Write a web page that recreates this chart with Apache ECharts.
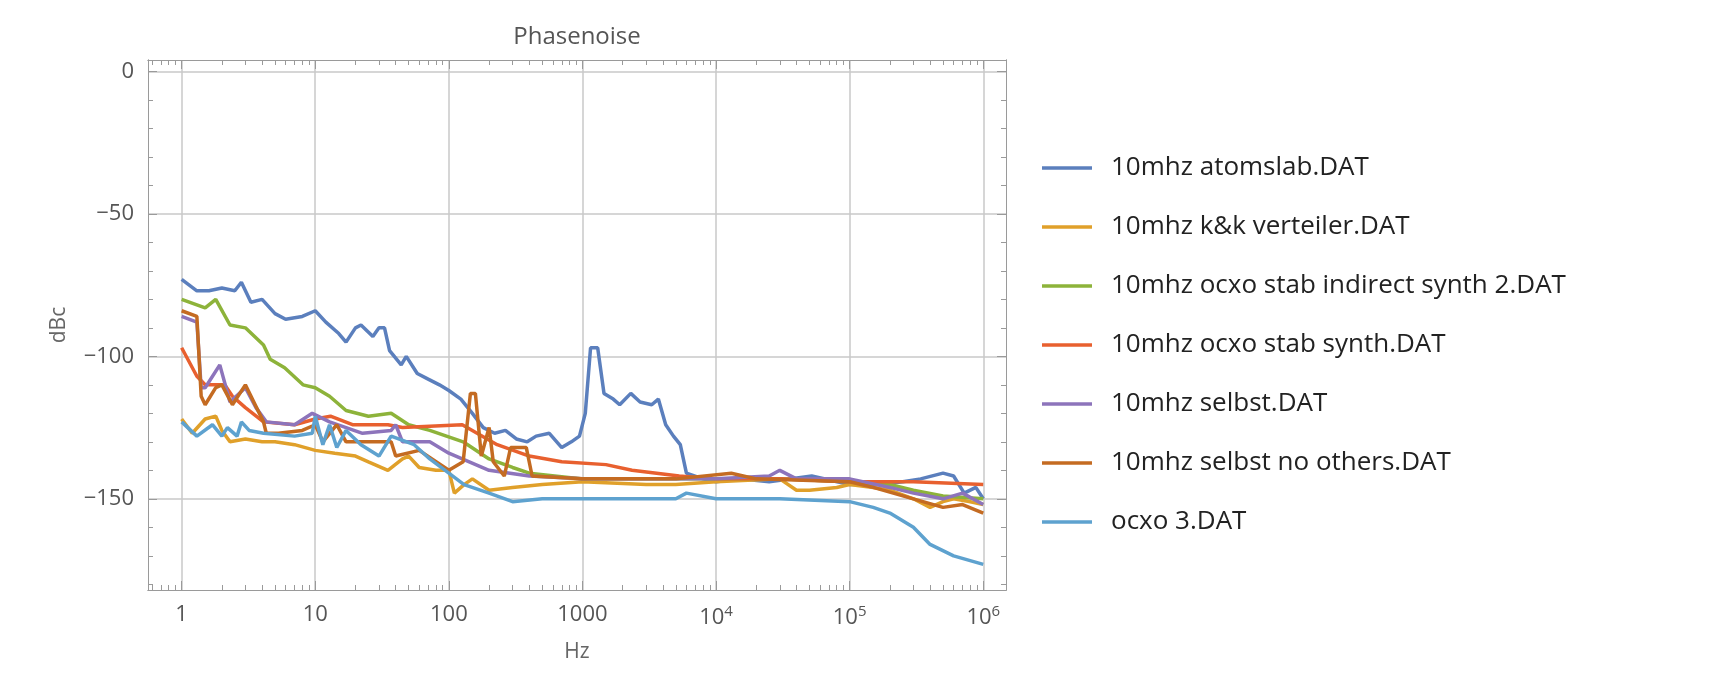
<!DOCTYPE html>
<html>
<head>
<meta charset="utf-8">
<script src="https://cdn.jsdelivr.net/npm/echarts@6/dist/echarts.min.js"></script>
<style>html,body{margin:0;background:#fff}#c{width:1714px;height:677px}</style>
</head>
<body>
<div id="c"></div>
<script>
// series names and colours (Mathematica default palette)
var names = ['10mhz atomslab.DAT', '10mhz k&k verteiler.DAT', '10mhz ocxo stab indirect synth 2.DAT',
  '10mhz ocxo stab synth.DAT', '10mhz selbst.DAT', '10mhz selbst no others.DAT', 'ocxo 3.DAT'];
var colors = ['#5b7fbd', '#e0a02a', '#8db33a', '#e8602f', '#8d74bb', '#c46b22', '#5ea2cf'];
var yTicks = [0, -50, -100, -150];
var xTicks = [1, 10, 100, 1000, 1e4, 1e5, 1e6];

// [Hz, dBc]
var atomslab = [[1,-73],[1.3,-77],[1.6,-77],[2,-76],[2.5,-77],[2.8,-74],[3.3,-81],[4,-80],[5,-85],[6,-87],[8,-86],[10,-84],[12,-88],[15,-92],[17,-95],[20,-90],[22,-89],[27,-93],[30,-90],[33,-90],[36,-98],[44,-103],[48,-100],[58,-106],[70,-108],[85,-110],[100,-112],[123,-115],[150,-120],[181,-125],[220,-127],[265,-126],[320,-129],[386,-130],[450,-128],[565,-127],[700,-132],[826,-130],[950,-128],[1050,-120],[1150,-97],[1300,-97],[1450,-113],[1700,-115],[1900,-117],[2300,-113],[2700,-116],[3300,-117],[3700,-115],[4200,-124],[4800,-128],[5400,-131],[6000,-141],[8000,-143],[10000,-144],[15000,-143],[25000,-144],[52000,-142],[100000,-145],[165000,-145],[250000,-144],[340000,-143],[500000,-141],[600000,-142],[720000,-148],[880000,-146],[1000000,-150]];
var kk = [[1,-122],[1.2,-127],[1.5,-122],[1.8,-121],[2,-126],[2.3,-130],[3,-129],[4,-130],[5,-130],[7,-131],[10,-133],[14,-134],[20,-135],[25,-137],[35,-140],[45,-136],[50,-135],[60,-139],[80,-140],[100,-140],[110,-148],[130,-145],[150,-143],[200,-147],[300,-146],[500,-145],[1000,-144],[3000,-145],[5000,-145],[10000,-144],[30000,-143],[40000,-147],[50000,-147],[80000,-146],[100000,-145],[150000,-146],[200000,-147],[300000,-150],[400000,-153],[500000,-151],[600000,-150],[800000,-151],[1000000,-152]];
var indirect = [[1,-80],[1.5,-83],[1.8,-80],[2.3,-89],[3,-90],[4.1,-96],[4.6,-101],[5.9,-104],[8.1,-110],[10,-111],[12.8,-114],[17,-119],[25,-121],[37,-120],[50,-124],[72,-126],[128,-130],[200,-136],[300,-139],[400,-141],[1000,-143],[3000,-143],[10000,-143],[30000,-143],[100000,-144],[200000,-145],[300000,-147],[500000,-149],[1000000,-150]];
var synth = [[1,-97],[1.3,-107],[1.5,-110],[2.1,-110],[2.4,-114],[3,-118],[4.1,-123],[7,-124],[10,-122],[13,-121],[19,-124],[35,-124],[45,-125],[126,-124],[230,-131],[400,-135],[700,-137],[1500,-138],[2350,-140],[5300,-142],[10000,-143],[30000,-143],[100000,-144],[300000,-144],[1000000,-145]];
var selbst = [[1,-86],[1.3,-88],[1.4,-111],[1.5,-111],[1.93,-103],[2.3,-116],[3,-111],[3.6,-118],[4.3,-123],[7,-124],[9.5,-120],[12.8,-123],[22.6,-127],[37,-126],[40,-124],[45,-130],[72,-130],[100,-134],[200,-140],[400,-142],[1000,-143],[10000,-143],[25000,-142],[30000,-140],[40000,-143],[100000,-143],[200000,-146],[300000,-148],[500000,-150],[700000,-148],[1000000,-152]];
var noOthers = [[1,-84],[1.3,-86],[1.4,-114],[1.5,-117],[1.8,-111],[2,-110],[2.4,-117],[3,-110],[4.1,-123],[4.3,-127],[5.3,-127],[8,-126],[10,-124],[11.4,-130],[14.5,-124],[17,-130],[22,-130],[37,-130],[40,-135],[60,-133],[100,-140],[128,-137],[145,-113],[158,-113],[175,-135],[200,-125],[215,-137],[260,-142],[290,-132],[380,-132],[420,-142],[1000,-143],[5000,-143],[13000,-141],[20000,-143],[100000,-144],[150000,-146],[300000,-150],[500000,-153],[700000,-152],[1000000,-155]];
var ocxo3 = [[1,-123],[1.3,-128],[1.7,-124],[2,-128],[2.2,-125],[2.6,-128],[2.8,-123],[3.2,-126],[4.1,-127],[7,-128],[9.5,-127],[10,-121],[11.4,-131],[12.8,-124],[14.5,-132],[17,-126],[22,-131],[30,-135],[37,-128],[55,-131],[72,-136],[100,-141],[130,-145],[200,-148],[300,-151],[500,-150],[1000,-150],[5000,-150],[6000,-148],[10000,-150],[30000,-150],[100000,-151],[150000,-153],[200000,-155],[300000,-160],[400000,-166],[600000,-170],[1000000,-173]];
var seriesData = [atomslab, kk, indirect, synth, selbst, noOthers, ocxo3];

// minor tick positions
var xMinor = [];
[0.1, 1, 10, 100, 1000, 1e4, 1e5, 1e6].forEach(function (d) {
  for (var k = 2; k <= 9; k++) if (d * k > 0.56 && d * k < 1480000) xMinor.push(d * k);
});
var yMinor = [];
for (var v = 0; v >= -180; v -= 10) if (yTicks.indexOf(v) < 0) yMinor.push(v);

var chart = echarts.init(document.getElementById('c'));
var gray = '#9a9a9a';
var font = 'Open Sans, DejaVu Sans, sans-serif';

function xLabel(v) {
  var e = Math.round(Math.log10(v));
  if (e <= 3) return String(Math.pow(10, e));
  return '10{s|' + e + '}';
}

function xAx(pos, major, extra) {
  return Object.assign({
    type: 'log', logBase: 10, min: 0.56, max: 1480000, position: pos,
    axisLine: { show: true, onZero: false, lineStyle: { color: gray } },
    axisTick: { show: true, inside: true, length: major ? 9 : 5, customValues: major ? xTicks : xMinor, lineStyle: { color: gray } },
    axisLabel: { show: false },
    splitLine: { show: false }
  }, extra || {});
}
function yAx(pos, major, extra) {
  return Object.assign({
    type: 'value', min: -182, max: 4, position: pos,
    axisLine: { show: true, onZero: false, lineStyle: { color: gray } },
    axisTick: { show: true, inside: true, length: major ? 9 : 5, customValues: major ? yTicks : yMinor, lineStyle: { color: gray } },
    axisLabel: { show: false },
    splitLine: { show: false }
  }, extra || {});
}

var option = {
  backgroundColor: '#fff',
  animation: false,
  title: { text: 'Phasenoise', left: 572, top: 20, textAlign: 'center',
    textStyle: { color: '#555', fontSize: 24, fontWeight: 'normal', fontFamily: font } },
  grid: { left: 148, top: 60, width: 858, height: 530 },
  legend: {
    orient: 'vertical', left: 1037, top: 150, itemGap: 33, icon: 'rect',
    itemWidth: 50, itemHeight: 3.5,
    textStyle: { color: '#222', fontSize: 26, fontFamily: font, padding: [0, 0, 0, 14] },
    data: names
  },
  xAxis: [
    xAx('bottom', true, {
      name: 'Hz', nameLocation: 'middle', nameGap: 52,
      nameTextStyle: { color: '#666', fontSize: 21, fontFamily: font },
      splitLine: { show: true, lineStyle: { color: '#c8c8c8', width: 1.5 } },
      axisLabel: { show: true, customValues: xTicks, formatter: xLabel, color: '#555', fontSize: 22, fontFamily: font, margin: 14,
        rich: { s: { fontSize: 15, verticalAlign: 'top', color: '#555', padding: [0, 0, 12, 0] } } }
    }),
    xAx('bottom', false),
    xAx('top', true),
    xAx('top', false)
  ],
  yAxis: [
    yAx('left', true, {
      name: 'dBc', nameLocation: 'middle', nameGap: 78,
      nameTextStyle: { color: '#666', fontSize: 21, fontFamily: font },
      splitLine: { show: true, lineStyle: { color: '#c8c8c8', width: 1.5 } },
      axisLabel: { show: true, customValues: yTicks, color: '#555', fontSize: 22, fontFamily: font, margin: 14,
        formatter: function (v) { return v < 0 ? '\u2212' + (-v) : String(v); } }
    }),
    yAx('left', false),
    yAx('right', true),
    yAx('right', false)
  ],
  series: seriesData.map(function (d, i) {
    return { name: names[i], type: 'line', data: d, showSymbol: false, symbol: 'none',
      lineStyle: { width: 3.5, color: colors[i] }, itemStyle: { color: colors[i] } };
  })
};
chart.setOption(option);
</script>
</body>
</html>
